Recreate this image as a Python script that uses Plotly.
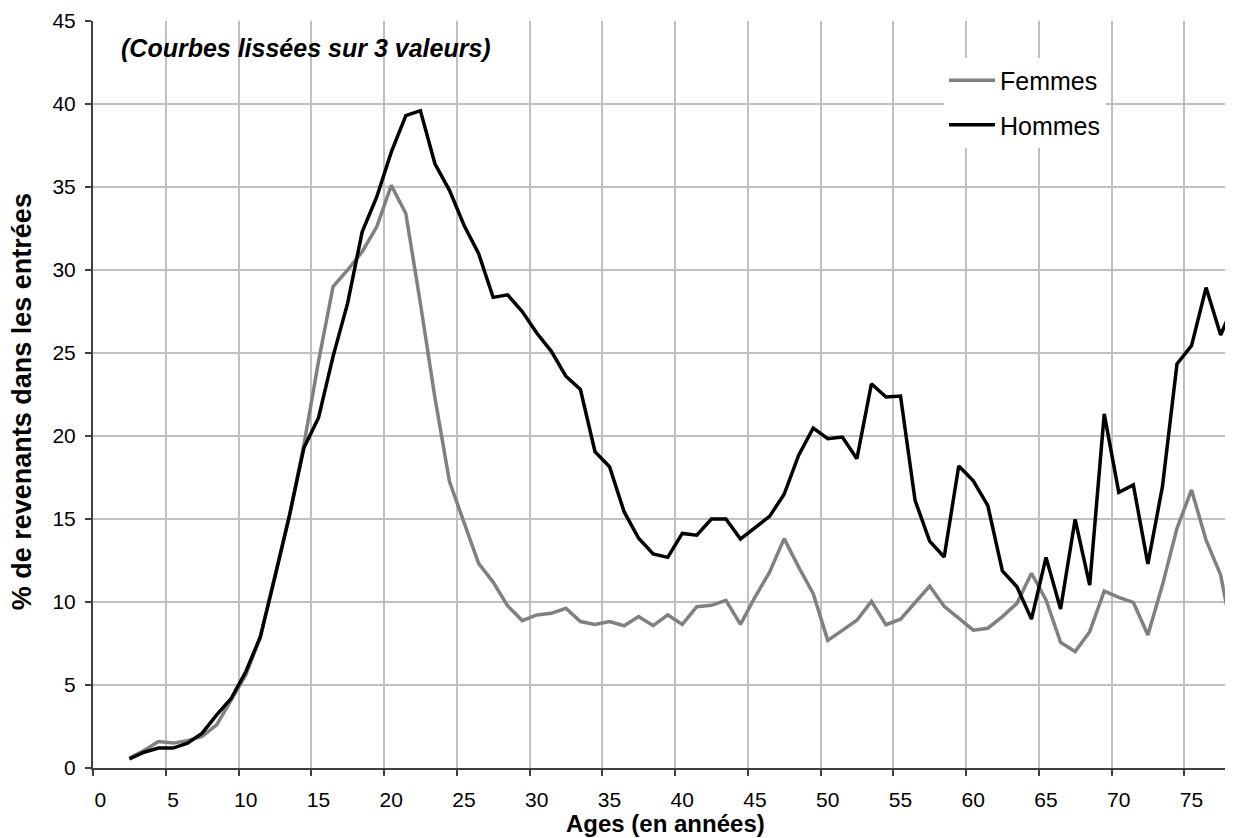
import plotly.graph_objects as go

# ---- data ----
ages = list(range(2, 79))
femmes = [0.6, 1.05, 1.6, 1.5, 1.65, 1.9, 2.6, 4.1, 5.6, 7.9,
          11.5, 15.2, 19.5, 24.5, 29.0, 30.0, 31.1, 32.6, 35.1, 33.4,
          28.0, 22.3, 17.25, 14.84, 12.33, 11.2, 9.76, 8.88, 9.22, 9.32,
          9.62, 8.82, 8.65, 8.82, 8.57, 9.12, 8.57, 9.22, 8.65, 9.72,
          9.8, 10.1, 8.65, 10.3, 11.8, 13.82, 12.1, 10.5, 7.69, 8.29,
          8.9, 10.04, 8.63, 8.96, 10.0, 10.96, 9.74, 9.0, 8.3, 8.42,
          9.12, 9.92, 11.73, 10.12, 7.57, 7.01, 8.21, 10.66, 10.28, 9.98,
          8.01, 11.02, 14.44, 16.75, 13.73, 11.63, 7.1]
hommes = [0.54, 0.95, 1.2, 1.2, 1.5, 2.1, 3.2, 4.2, 5.8, 7.9,
          11.5, 15.2, 19.3, 21.1, 24.8, 28.0, 32.3, 34.4, 37.1, 39.3,
          39.6, 36.4, 34.8, 32.7, 31.0, 28.35, 28.5, 27.5, 26.2, 25.1,
          23.6, 22.8, 19.06, 18.15, 15.44, 13.84, 12.89, 12.69, 14.13, 14.02,
          15.0, 15.0, 13.8, 14.46, 15.16, 16.49, 18.84, 20.48, 19.84, 19.94,
          18.63, 23.15, 22.35, 22.41, 16.12, 13.67, 12.71, 18.19, 17.3, 15.8,
          11.87, 10.92, 8.97, 12.69, 9.58, 14.98, 11.02, 21.33, 16.61, 17.05,
          12.29, 16.95, 24.34, 25.44, 28.94, 26.08, 28.1]
x_ticks = list(range(0, 80, 5))
y_ticks = list(range(0, 50, 5))

FONT = "Liberation Sans, Arial, sans-serif"

fig = go.Figure()
fig.add_trace(go.Scatter(x=ages, y=femmes, mode="lines", name="Femmes",
                         line=dict(color="#808080", width=3.5), legendgroup="f"))
fig.add_trace(go.Scatter(x=ages, y=hommes, mode="lines", name="Hommes",
                         line=dict(color="#000000", width=3.5), legendgroup="h"))

fig.update_layout(
    width=1225, height=830,
    margin=dict(l=85, r=0, t=13, b=70),
    paper_bgcolor="white", plot_bgcolor="white",
    font=dict(family=FONT, color="#000000", size=21),
    showlegend=True,
    legend=dict(x=0.7465, y=0.951, xanchor="left", yanchor="top",
                bgcolor="white", borderwidth=0, font=dict(size=25, family=FONT),
                traceorder="grouped", tracegroupgap=9, itemwidth=46),
)
# category-style axis: labels centred on each age, grid/ticks on the boundaries
fig.update_xaxes(
    range=[-0.5, 77.85],
    tickmode="array", tickvals=x_ticks, ticktext=[str(v) for v in x_ticks],
    tickangle=0, showgrid=False, ticks="",
    minor=dict(tick0=-0.5, dtick=5, showgrid=True, gridcolor="#c0c0c0", gridwidth=1.5,
               ticks="outside", ticklen=6, tickcolor="#404040", tickwidth=1.5),
    showline=True, linecolor="#404040", linewidth=2,
    tickfont=dict(size=21, family=FONT), ticklabelstandoff=12,
    zeroline=False,
)
fig.update_yaxes(
    range=[0, 45], tickmode="array", tickvals=y_ticks,
    showgrid=True, gridcolor="#c0c0c0", gridwidth=1.5,
    showline=True, linecolor="#404040", linewidth=2,
    ticks="outside", ticklen=6, tickcolor="#404040", tickwidth=1.5,
    tickfont=dict(size=21, family=FONT), ticklabelstandoff=5,
    zeroline=False,
)

fig.add_annotation(text="<b><i>(Courbes lissées sur 3 valeurs)</i></b>",
                   xref="paper", yref="paper", x=0.0228, y=0.964,
                   xanchor="left", yanchor="middle", showarrow=False,
                   font=dict(size=25, family=FONT))
fig.add_annotation(text="<b>Ages (en années)</b>",
                   xref="paper", yref="paper", x=0.5026, y=0,
                   xanchor="center", yanchor="middle", yshift=-55, showarrow=False,
                   font=dict(size=24, family=FONT))
fig.add_annotation(text="<b>% de revenants dans les entrées</b>",
                   xref="paper", yref="paper", x=-0.062, y=0.49,
                   xanchor="center", yanchor="middle", textangle=-90, showarrow=False,
                   font=dict(size=27, family=FONT))

fig.write_html("out.html")
